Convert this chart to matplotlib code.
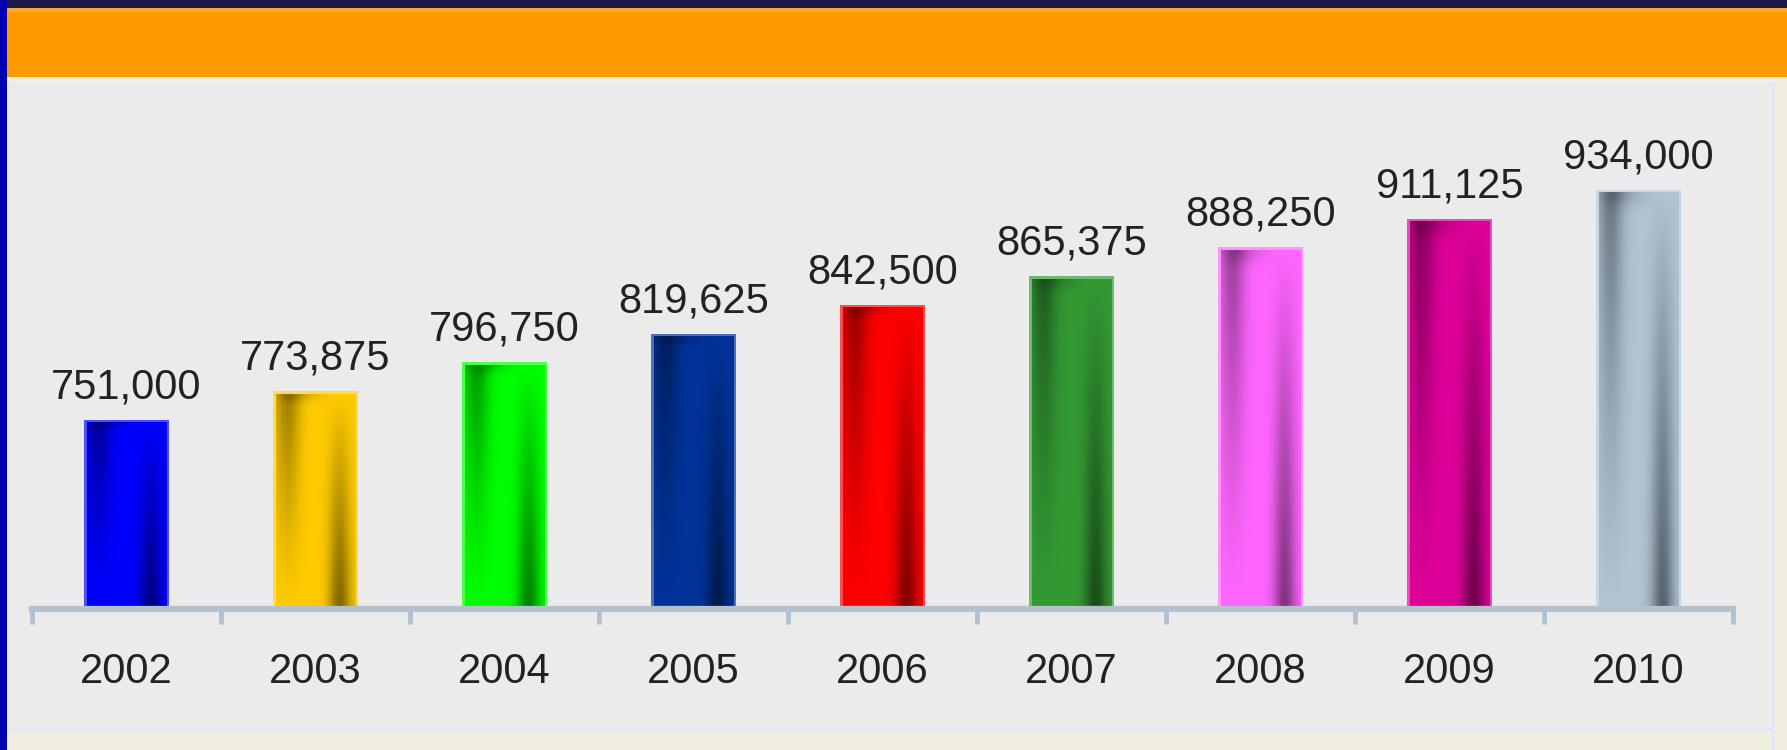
import matplotlib
matplotlib.use('Agg')

import matplotlib.pyplot as plt
from matplotlib.patches import Rectangle
from matplotlib.colors import to_rgb
from matplotlib.ticker import FixedLocator
import numpy as np

# chart data
years = ['2002', '2003', '2004', '2005', '2006', '2007', '2008', '2009', '2010']
values = [751000, 773875, 796750, 819625, 842500, 865375, 888250, 911125, 934000]
bar_colors = ['#0000FF', '#FFCC00', '#00FF00', '#003399', '#FF0000',
              '#339933', '#FF66FF', '#DD0099', '#B0C4D4']

plt.rcParams['font.family'] = ['Liberation Sans', 'DejaVu Sans']

W, H = 1787, 750
fig = plt.figure(figsize=(W / 100, H / 100), dpi=100)
fig.patch.set_facecolor('#EBEBEB')


def px_rect(x, y, w, h, color):
    # rectangle in figure pixels, y measured from the top
    fig.add_artist(Rectangle((x / W, 1 - (y + h) / H), w / W, h / H,
                             transform=fig.transFigure, color=color, lw=0, zorder=0))


# frame pieces around the chart
px_rect(0, 728, W, 3, '#E8E5F2')
px_rect(0, 731, W, 19, '#F0EEE0')
px_rect(1772, 0, 3, H, '#E8E5F2')
px_rect(1775, 0, 12, H, '#F0EEE0')
px_rect(0, 77, W, 5, '#F4EFE8')
px_rect(0, 8, W, 69, '#FF9900')
px_rect(0, 8, W, 4, '#F5A830')
px_rect(0, 0, W, 8, '#1A1A48')
px_rect(0, 0, 7, H, '#0000B0')

ax = fig.add_axes([32 / W, (H - 609) / H, 1701 / W, 519 / H])
ax.set_facecolor('none')

x = np.arange(len(years))
bar_w = 0.45
ymin, ymax = 600600, 1013500
px_per_unit = 519 / (ymax - ymin)

bars = ax.bar(x, [v - ymin for v in values], bottom=ymin, width=bar_w,
              color=[tuple(0.7 * np.array(to_rgb(c)) + 0.3) for c in bar_colors],
              linewidth=0, zorder=2)

# cylindrical shading inside each bar
nx, ny = 80, 120
gx = np.linspace(0, 1, nx)[None, :]
gy = np.linspace(1, 0, ny)[:, None]
left_dark = 0.38 * np.exp(-((gx - 0.14) / 0.16) ** 2) * gy ** 1.2
right_dark = 0.5 * np.exp(-((gx - 0.8) / 0.14) ** 2) * (1 - gy) ** 0.9
top_streak = 0.15 * np.exp(-((1 - gy) / 0.03) ** 2) * np.exp(-((gx - 0.3) / 0.25) ** 2)
shade = np.clip(1 - left_dark - right_dark - top_streak, 0.3, 1)

dx = 3 / 189
dy = 3 / px_per_unit
for rect, c in zip(bars, bar_colors):
    rgb = np.array(to_rgb(c))
    img = shade[:, :, None] * rgb[None, None, :]
    x0 = rect.get_x() + dx
    x1 = rect.get_x() + rect.get_width() - dx
    y0 = rect.get_y()
    y1 = rect.get_y() + rect.get_height() - dy
    ax.imshow(img, extent=[x0, x1, y0, y1], aspect='auto', zorder=3,
              interpolation='bicubic')

for xi, v in zip(x, values):
    ax.annotate(f'{v:,}', (xi, v), xytext=(0, 9), textcoords='offset points',
                ha='center', va='bottom', fontsize=30, color='#222222', zorder=4)

ax.set_xlim(-0.5, len(years) - 0.5)
ax.set_ylim(ymin, ymax)

for s in ['top', 'right', 'left']:
    ax.spines[s].set_visible(False)
ax.spines['bottom'].set_color('#B3C2CE')
ax.spines['bottom'].set_linewidth(4.5)
ax.spines['bottom'].set_zorder(5)

ax.set_yticks([])
ax.set_xticks(x)
ax.set_xticklabels(years, fontsize=30, color='#222222')
ax.tick_params(axis='x', which='major', length=0, pad=31)
ax.xaxis.set_minor_locator(FixedLocator(np.arange(-0.5, len(years), 1.0)))
ax.tick_params(axis='x', which='minor', length=11, width=3.5, color='#B3C2CE',
               direction='out')

plt.savefig('out.png', dpi=100, facecolor=fig.get_facecolor())
